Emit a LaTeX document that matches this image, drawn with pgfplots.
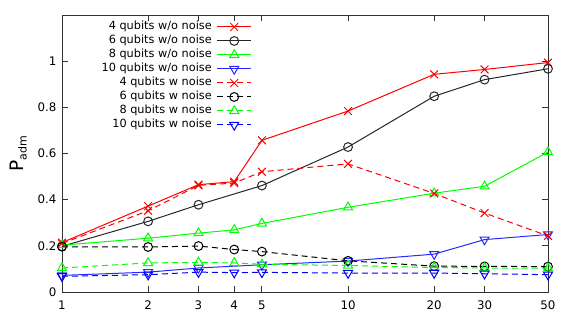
\documentclass[border=0pt]{standalone}
\usepackage{pgfplots}
\pgfplotsset{compat=1.18}
\usepackage{fontspec}
\setmainfont{DejaVu Sans}
\definecolor{gred}{RGB}{255,0,0}
\definecolor{ggreen}{RGB}{0,255,0}
\definecolor{gblue}{RGB}{0,0,255}
\definecolor{gblueL}{RGB}{40,40,255}
\begin{document}
\begin{tikzpicture}
\begin{axis}[
  scale only axis,
  width=486pt, height=277pt,
  xmode=log,
  xmin=1, xmax=50,
  ymin=0, ymax=1.2,
  xtick={1,2,3,4,5,10,20,30,50},
  xticklabels={1,2,3,4,5,10,20,30,50},
  xminorticks=false,
  log ticks with fixed point,
  ytick={0,0.2,0.4,0.6,0.8,1},
  yticklabels={0,0.2,0.4,0.6,0.8,1},
  tick align=inside,
  major tick length=6pt,
  minor tick length=0pt,
  axis line style={black!80, line width=0.9pt},
  every tick/.style={black!80, line width=0.9pt},
  tick label style={font=\fontsize{11.8}{13}\selectfont},
  xticklabel style={yshift=-5pt},
  yticklabel style={xshift=-2pt},
  ylabel={P\raisebox{-0.35ex}{\fontsize{11}{13}\selectfont adm}},
  ylabel style={font=\fontsize{18.5}{20}\selectfont, yshift=4pt},
  clip=false,
  legend plot pos=right,
  legend cell align=right,
  legend style={at={(rel axis cs:0.397,0.99)}, anchor=north east, draw=none, fill=none,
    font=\fontsize{11.3}{13}\selectfont,
    nodes={inner sep=1pt, text height=9pt, text depth=3pt},
    row sep=0pt, column sep=4pt},
  legend image code/.code={\draw[mark repeat=2,mark phase=2,#1] plot coordinates {(0pt,0pt) (17pt,0pt) (34pt,0pt)};},
  every axis plot/.append style={line width=1pt},
]
% 4 qubits w/o noise
\addplot[gred, mark=x, mark size=5.5pt] coordinates {
(1,0.214) (2,0.372) (3,0.465) (4,0.478) (5,0.657) (10,0.784) (20,0.943) (30,0.964) (50,0.994)};
\addlegendentry{4 qubits w/o noise}
% 6 qubits w/o noise
\addplot[black!85, mark=o, mark size=4.4pt] coordinates {
(1,0.198) (2,0.306) (3,0.378) (5,0.461) (10,0.628) (20,0.848) (30,0.920) (50,0.967)};
\addlegendentry{6 qubits w/o noise}
% 8 qubits w/o noise
\addplot[ggreen, mark=triangle, mark size=5.2pt] coordinates {
(1,0.203) (2,0.233) (3,0.255) (4,0.269) (5,0.297) (10,0.367) (20,0.428) (30,0.458) (50,0.606)};
\addlegendentry{8 qubits w/o noise}
% 10 qubits w/o noise
\addplot[gblueL, mark=triangle, mark options={rotate=180}, mark size=5.2pt] coordinates {
(1,0.072) (2,0.086) (3,0.104) (5,0.118) (10,0.134) (20,0.164) (30,0.227) (50,0.249)};
\addlegendentry{10 qubits w/o noise}
% 4 qubits w noise
\addplot[gred, dash pattern=on 6pt off 4pt, mark=x, mark size=5.5pt, mark options={solid}] coordinates {
(1,0.210) (2,0.352) (3,0.462) (4,0.472) (5,0.521) (10,0.555) (20,0.427) (30,0.342) (50,0.243)};
\addlegendentry{4 qubits w noise}
% 6 qubits w noise
\addplot[black, dash pattern=on 6pt off 4pt, mark=o, mark size=4.4pt, mark options={solid}] coordinates {
(1,0.196) (2,0.195) (3,0.199) (4,0.184) (5,0.175) (10,0.135) (20,0.112) (30,0.111) (50,0.110)};
\addlegendentry{6 qubits w noise}
% 8 qubits w noise
\addplot[ggreen, dash pattern=on 6pt off 4pt, mark=triangle, mark size=5.2pt, mark options={solid}] coordinates {
(1,0.104) (2,0.126) (3,0.128) (4,0.126) (5,0.120) (10,0.115) (20,0.106) (30,0.104) (50,0.103)};
\addlegendentry{8 qubits w noise}
% 10 qubits w noise
\addplot[gblue, dash pattern=on 6pt off 4pt, mark=triangle, mark size=5.2pt, mark options={solid, rotate=180}] coordinates {
(1,0.068) (2,0.075) (3,0.086) (4,0.084) (5,0.085) (10,0.082) (20,0.082) (30,0.079) (50,0.075)};
\addlegendentry{10 qubits w noise}
\end{axis}
\path (-62pt,-27pt) rectangle (506pt,292pt);
\end{tikzpicture}
\end{document}
